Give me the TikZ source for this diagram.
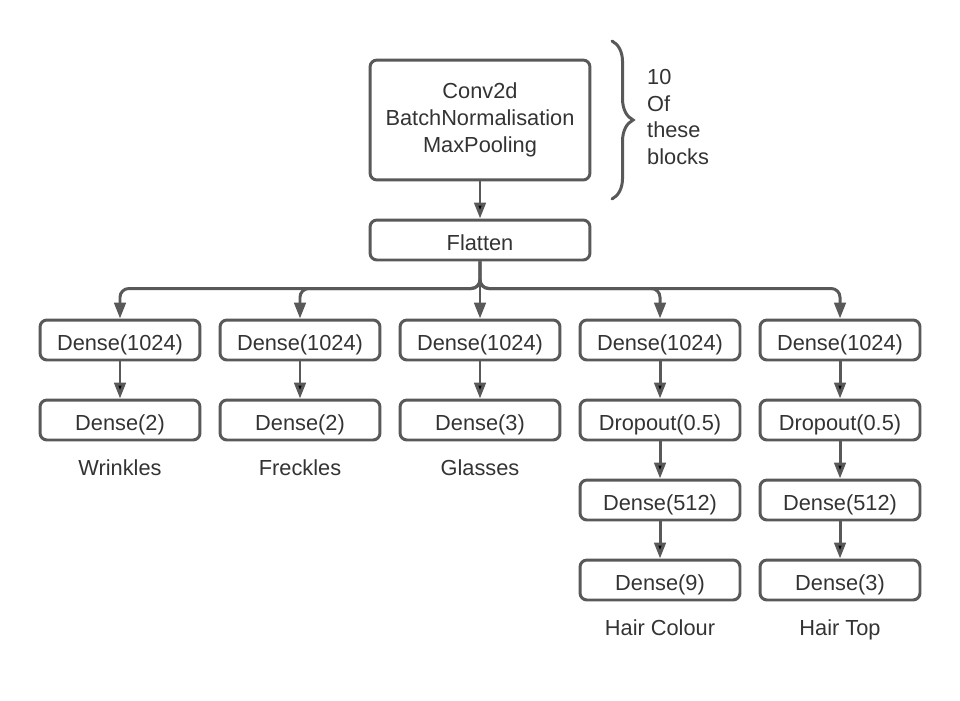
\documentclass[tikz,border=0pt]{standalone}
\usepackage{fontspec}
\setmainfont{Liberation Sans}
\usepackage{tikz}
\usetikzlibrary{calc,arrows.meta,decorations.pathreplacing}
\definecolor{linegrey}{HTML}{595959}
\definecolor{textgrey}{HTML}{333333}
\tikzset{
	box/.style={draw=linegrey,line width=1.7pt,rounded corners=4pt,text=textgrey,
		minimum width=3.2cm,minimum height=0.8cm,inner sep=0pt,font=\fontsize{12.4}{15.3}\selectfont},
	layer/.style={box,text height=12.2pt,text depth=0pt},
	wide/.style={layer,minimum width=4.4cm},
	outname/.style={text=textgrey,anchor=base,font=\fontsize{12.4}{15.3}\selectfont},
	flow/.style={draw=linegrey,line width=1.7pt,-{Triangle[length=9pt,width=6.5pt]}},
}
\begin{document}
\begin{tikzpicture}[x=0.02cm,y=-0.02cm]

				\useasboundingbox (0,0) rectangle (960,700);

	  			\node[box,minimum width=4.4cm,minimum height=2.4cm,align=center] 	(block)     	at (480,120) 	{Conv2d\\BatchNormalisation\\MaxPooling};
				\node[wide] 	(flatten)   at (480,240) 					{Flatten};

				\node[layer] 	(wrA)   at (120,340) 					{Dense(1024)};
				\node[layer] 	(wrB)   at (120,420) 					{Dense(2)};
				\node[layer] 	(frA)   at (300,340) 					{Dense(1024)};
				\node[layer] 	(frB)   at (300,420) 					{Dense(2)};
				\node[layer] 	(glA)   at (480,340) 					{Dense(1024)};
				\node[layer] 	(glB)   at (480,420) 					{Dense(3)};
				\node[layer] 	(hcA)   at (660,340) 					{Dense(1024)};
				\node[layer] 	(hcB)   at (660,420) 					{Dropout(0.5)};
				\node[layer] 	(hcC)   at (660,500) 					{Dense(512)};
				\node[layer] 	(hcD)   at (660,580) 					{Dense(9)};
				\node[layer] 	(htA)   at (840,340) 					{Dense(1024)};
				\node[layer] 	(htB)   at (840,420) 					{Dropout(0.5)};
				\node[layer] 	(htC)   at (840,500) 					{Dense(512)};
				\node[layer] 	(htD)   at (840,580) 					{Dense(3)};

				\node[outname] (wrinkles)	at (120,475) 	{Wrinkles};
				\node[outname] (freckles)	at (300,475) 	{Freckles};
				\node[outname] (glasses)	at (480,475) 	{Glasses};
				\node[outname] (haircolour)	at (660,635) 	{Hair Colour};
				\node[outname] (hairtop)	at (840,635) 	{Hair Top};

				\node[outname,anchor=west,align=left] (repeat)	at (641,117) 	{10\\Of\\these\\blocks};

				\path[flow]
				(block)	edge	(flatten)
				(wrA) edge (wrB)
				(frA) edge (frB)
				(glA) edge (glB)
				(hcA) edge (hcB)
				(hcB) edge (hcC)
				(hcC) edge (hcD)
				(htA) edge (htB)
				(htB) edge (htC)
				(htC) edge (htD);

				\draw[flow,rounded corners=5pt] (flatten.south) |- ($(wrA.north)+(0,-30)$) -- (wrA.north);
				\draw[flow,rounded corners=5pt] (flatten.south) |- ($(frA.north)+(0,-30)$) -- (frA.north);
				\draw[flow] (flatten.south) -- (glA.north);
				\draw[flow,rounded corners=5pt] (flatten.south) |- ($(hcA.north)+(0,-30)$) -- (hcA.north);
				\draw[flow,rounded corners=5pt] (flatten.south) |- ($(htA.north)+(0,-30)$) -- (htA.north);

				\coordinate (braceTop) at (612,41);
				\coordinate (braceBot) at (612,199);
				\draw[draw=linegrey,line width=1.7pt,line cap=round,decorate,decoration={brace,amplitude=12pt}] (braceTop) -- (braceBot);

		\end{tikzpicture}
\end{document}
